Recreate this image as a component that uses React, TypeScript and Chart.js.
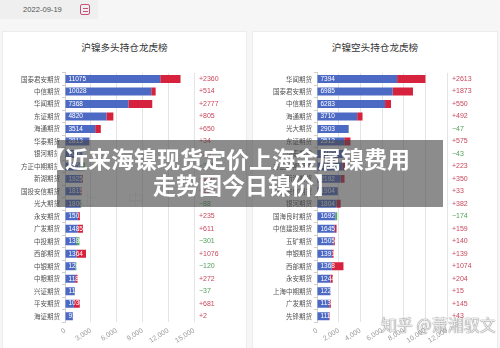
import React, { useEffect, useRef } from "react";
import { Chart, registerables } from "chart.js";
Chart.register(...registerables);

const longCompanies = ["国泰君安期货", "中信期货", "华闻期货", "东证期货", "海通期货", "华泰期货", "银河期货", "方正中期期货", "新湖期货", "国投安信期货", "光大期货", "永安期货", "广发期货", "中投期货", "西部期货", "中银期货", "中粮期货", "兴证期货", "平安期货", "海证期货"];
const longValues = [11075, 10028, 7368, 4820, 3514, 2813, 2050, 1950, 1925, 1815, 1800, 1501, 1485, 1380, 1364, 1209, 1187, 1123, 1036, 916];
const longChanges = [2360, 514, 2777, 805, 650, 34, 25, -346, 150, 120, -88, 235, 611, -301, 1076, -120, 272, -37, 681, 2];

const shortCompanies = ["华闻期货", "国泰君安期货", "中信期货", "海通期货", "光大期货", "东证期货", "华泰期货", "方正中期期货", "新湖期货", "国投安信期货", "银河期货", "国海良时期货", "中信建投期货", "五矿期货", "申银期货", "西部期货", "永安期货", "上海中期期货", "广发期货", "先锋期货"];
const shortValues = [7394, 6985, 6283, 3710, 2903, 2512, 2450, 2360, 2192, 1904, 1804, 1692, 1645, 1505, 1391, 1368, 1244, 1227, 1134, 1116];
const shortChanges = [2613, 1873, 550, 492, -47, 575, -43, 223, 350, 33, 382, -174, 159, 140, 139, 1074, 204, 15, 145, 43];

const longTicks = { max: 15000, step: 3000 };
const shortTicks = { max: 12000, step: 2000 };

const BLUE = "#4c69c4";
const RED = "#d6223d";
const GREEN = "#4caf50";

function makeLabelPlugin(values: number[], changes: number[]) {
  return {
    id: "barLabels",
    afterDatasetsDraw(chart: any) {
      const ctx = chart.ctx;
      const meta = chart.getDatasetMeta(0);
      ctx.save();
      ctx.textBaseline = "middle";
      ctx.textAlign = "left";
      meta.data.forEach((bar: any, i: number) => {
        const p = bar.getProps(["x", "y", "base"], true);
        ctx.font = '6.5px "Liberation Sans", sans-serif';
        ctx.fillStyle = "#ffffff";
        ctx.fillText(String(values[i]), p.base + 3, p.y);
        const c = changes[i];
        ctx.font = '7px "Liberation Sans", sans-serif';
        ctx.fillStyle = c >= 0 ? "#c9475c" : "#4f9e5a";
        ctx.fillText((c >= 0 ? "+" : "\u2212") + Math.abs(c), chart.chartArea.right + 5, p.y);
      });
      ctx.restore();
    },
  };
}

function BarPanel(props: { labels: string[]; values: number[]; changes: number[]; ticks: { max: number; step: number }; yWidth: number; rightPad: number }) {
  const ref = useRef<HTMLCanvasElement | null>(null);
  useEffect(() => {
    if (!ref.current) return;
    const { labels, values, changes, ticks, yWidth, rightPad } = props;
    const chart = new Chart(ref.current, {
      type: "bar",
      data: {
        labels,
        datasets: [
          { data: values, backgroundColor: BLUE, stack: "s" },
          { data: changes.map((c) => (c > 0 ? c : 0)), backgroundColor: RED, stack: "s" },
          { data: changes.map((c) => (c < 0 ? -c : 0)), backgroundColor: GREEN, stack: "s" },
        ],
      },
      options: {
        indexAxis: "y",
        responsive: false,
        animation: false,
        devicePixelRatio: 1,
        datasets: { bar: { categoryPercentage: 0.8, barPercentage: 0.8 } },
        layout: { padding: { top: 12.8, right: rightPad, bottom: 0, left: 0 } },
        plugins: { legend: { display: false }, tooltip: { enabled: false }, title: { display: false } },
        scales: {
          x: {
            stacked: true,
            min: 0,
            max: ticks.max,
            border: { display: false },
            grid: { color: "#e4e4e4", drawTicks: false },
            ticks: {
              stepSize: ticks.step,
              minRotation: 32,
              maxRotation: 32,
              padding: 4,
              color: "#9a9a9a",
              font: { size: 7, family: '"Liberation Sans", sans-serif' },
              callback: (v: any) => Number(v).toLocaleString("en-US"),
            },
            afterFit: (s: any) => {
              s.height = 25.6;
            },
          },
          y: {
            stacked: true,
            border: { display: true, color: "#cfcfcf" },
            grid: { drawOnChartArea: false, tickLength: 3, color: "#cfcfcf" },
            ticks: {
              padding: 2,
              color: "#555",
              autoSkip: false,
              font: { size: 6.5, family: '"Noto Sans CJK SC", sans-serif' },
            },
            afterFit: (s: any) => {
              s.width = yWidth;
            },
          },
        },
      } as any,
      plugins: [makeLabelPlugin(values, changes)],
    });
    return () => chart.destroy();
  }, []);
  return <canvas ref={ref} width={250} height={288} style={{ width: 250, height: 288, display: "block" }} />;
}

export default function App() {
  const cjk = '"Noto Sans CJK SC", sans-serif';
  return (
    <div style={{ position: "absolute", left: 0, top: 0, width: 500, height: 348, background: "#f6f6f6", overflow: "hidden", fontFamily: cjk }}>
      {/* date box */}
      <div style={{ position: "absolute", left: 0, top: 0, width: 98, height: 19, background: "#efefef" }} />
      <div style={{ position: "absolute", left: 23, top: 4, fontSize: 7.6, color: "#555", fontFamily: '"Liberation Sans", sans-serif', lineHeight: "11px" }}>2022-09-19</div>
      <div style={{ position: "absolute", left: 80, top: 4, width: 10, height: 11, border: "1.4px solid #c9507a", borderRadius: 2, boxSizing: "border-box" }}>
        <div style={{ position: "absolute", left: 1.5, right: 1.5, top: 2.5, height: 1.3, background: "#c9507a" }} />
        <div style={{ position: "absolute", left: 1.5, right: 1.5, top: 5.5, height: 1.3, background: "#c9507a" }} />
      </div>
      {/* panels */}
      <div style={{ position: "absolute", left: 2, top: 31, width: 245, height: 330, background: "#fff", border: "1px solid #ececec", boxSizing: "border-box" }} />
      <div style={{ position: "absolute", left: 252, top: 31, width: 246, height: 330, background: "#fff", border: "1px solid #ececec", boxSizing: "border-box" }} />
      <div style={{ position: "absolute", left: 2, width: 245, top: 40, textAlign: "center", fontSize: 9.6, color: "#333", lineHeight: "14px" }}>沪镍多头持仓龙虎榜</div>
      <div style={{ position: "absolute", left: 252, width: 246, top: 40, textAlign: "center", fontSize: 9.6, color: "#333", lineHeight: "14px" }}>沪镍空头持仓龙虎榜</div>
      {/* charts */}
      <div style={{ position: "absolute", left: 0, top: 60 }}>
        <BarPanel labels={longCompanies} values={longValues} changes={longChanges} ticks={longTicks} yWidth={65} rightPad={56} />
      </div>
      <div style={{ position: "absolute", left: 250, top: 60 }}>
        <BarPanel labels={shortCompanies} values={shortValues} changes={shortChanges} ticks={shortTicks} yWidth={67} rightPad={53} />
      </div>
      {/* faint logo watermark */}
      <div style={{ position: "absolute", left: 80, top: 186, fontSize: 16, color: "rgba(0,0,0,0.06)", letterSpacing: 14 }}>上 中</div>
      {/* overlay banner */}
      <div style={{ position: "absolute", left: 57, top: 140, width: 386, height: 67, background: "rgba(70,70,70,0.62)" }} />
      <div style={{ position: "absolute", left: 42, top: 145, color: "#fff", fontWeight: 700, fontSize: 23, lineHeight: "26px", whiteSpace: "nowrap", fontFamily: cjk }}>【近来海镍现货定价上海金属镍费用</div>
      <div style={{ position: "absolute", left: 153, top: 171, color: "#fff", fontWeight: 700, fontSize: 23, lineHeight: "26px", whiteSpace: "nowrap", fontFamily: cjk }}>走势图今日镍价】</div>
      {/* bottom-right watermark */}
      <div style={{ position: "absolute", left: 381, top: 312, fontSize: 16, color: "rgba(255,255,255,0.88)", whiteSpace: "nowrap", textShadow: "0 0 1px rgba(0,0,0,0.5), 0 0 1px rgba(0,0,0,0.5)", fontFamily: cjk }}>知乎 @萧湘驭文</div>
    </div>
  );
}
